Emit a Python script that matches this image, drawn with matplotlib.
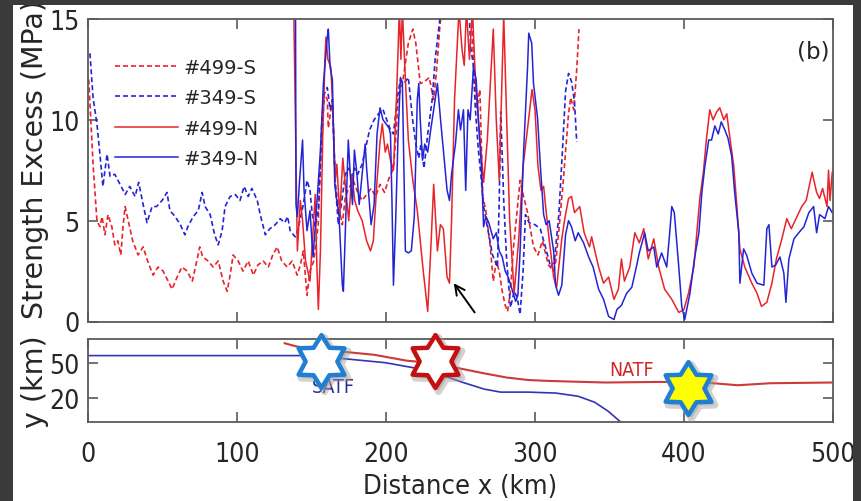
import numpy as np
import matplotlib
matplotlib.use("Agg")
import matplotlib.pyplot as plt
from matplotlib.patches import Rectangle
from matplotlib.path import Path
import matplotlib.transforms as mtransforms
from matplotlib import font_manager as fm

# ---------------- data ----------------
s499_x = [0.5,3.4,6,8,9.4,11.4,13.4,16,18,20,22,23.5,24.9,27,30,33.6,37,40,43.7,47,50.4,53.8,56.4,59.8,63,66.5,70,73,75,77,80.6,84,87.4,90.7,93.4,95.4,97.4,100.8,104,107.5,111,114,117.6,121,124,127,130,133.7,137,140.4,142.5,144.5,147,149,151.5,154.5,157,158.6,160.6,161.3,164,166,168,170.7,172.7,175,178,181,184,187,190,193,196,199,202,205,207,208,211,215,218,220,223,226,229,232,234,236,238,240,250,257,259,261,263,265,267,270,272,274,276,278,280,281.6,283.5,285.6,288,290,292,295,299,302,305,309,312.5,314,316,319,322.5,324,326,328,329.5]
s499_y = [12.0,7.8,5.0,4.7,5.2,4.3,5.3,4.7,3.8,4.0,3.3,4.7,5.7,5.0,4.0,3.3,3.7,3.0,2.3,2.7,2.5,2.0,1.6,2.2,2.7,2.5,2.0,3.0,3.7,3.2,3.0,2.7,3.0,2.0,1.5,2.3,3.3,3.0,2.5,3.0,2.3,2.8,3.0,2.7,3.3,3.7,3.0,2.7,3.0,2.3,2.8,3.5,1.3,2.5,3.0,4.8,10.1,11.3,11.0,9.6,11.0,6.8,5.8,4.8,6.2,6.6,7.0,6.4,6.0,6.3,6.6,6.2,6.8,6.4,7.1,7.6,9.5,11.0,11.8,13.8,14.5,13.8,11.8,11.9,12.1,11.0,12.5,14.5,16,17,17,16,12.4,10.6,11.5,6.2,5.5,3.7,2.0,3.0,2.5,1.5,0.8,0.5,1.5,3.7,5.5,7.0,6.3,5.4,3.7,3.3,4.0,2.8,2.5,3.0,4.5,7.0,10.3,11.1,10.5,12.5,14.5]

s349_x = [1.3,3.4,6,8,10,12.8,14.8,18,21.5,25,28,31.6,34,37,39.6,43,46,49.7,53,55,58.5,62,65,67,70.6,74,76.6,78.6,82,85,87.4,90,92,95.4,98.8,102,104.8,107.5,110,113.6,115.6,119,122,125.7,129,132,134,135.7,139,141,144.5,147,149,150.5,152.5,154.6,157,158.6,160.6,162.5,164,166,168,170,172.7,175,177,179,181,184,186,189,192,195,198,200,203,205,207.6,209.7,212,215,217.7,220,222,223.5,225.5,228,231,233,235,236.5,238,255,257,258.5,260,262,264,265.5,268.5,271.5,274.8,276,277,279,281,283.6,286,288,290,292,293.6,296,300,303.5,307,310.5,313,316,318.5,320.5,322.5,324.5,326.5,328]
s349_y = [13.3,11.1,9.8,8.3,6.7,8.3,7.2,7.3,6.8,6.3,6.7,6.2,6.9,5.8,4.9,5.7,5.7,6.0,6.4,5.5,5.2,4.8,4.3,4.7,5.2,5.5,6.4,5.7,5.3,4.3,3.8,4.5,5.7,6.2,6.3,6.0,6.7,6.2,6.6,6.0,5.3,4.3,4.6,4.8,5.1,4.9,5.2,4.5,4.2,4.6,5.8,7.0,6.5,5.3,4.7,5.5,9.3,11.3,11.6,10.5,11.0,6.8,4.8,5.8,7.3,7.6,7.2,7.6,7.3,7.8,8.5,9.5,10.0,10.3,10.5,10.1,9.5,9.3,11.1,12.0,11.8,12.1,10.1,8.8,8.1,8.8,7.6,9.3,11.0,13.0,14.3,15.2,16.5,16.5,13.5,12.8,10.5,8.5,7.0,5.7,4.5,3.3,2.7,6.0,10.4,6.0,3.0,0.7,1.5,1.2,0.35,2.5,5.3,4.9,4.8,4.6,3.7,2.7,3.0,5.3,8.6,11.4,12.3,11.9,10.9,8.9]

n499_x = [137.5,138.2,140.5,142.5,144,146,149,151,152.5,153.5,154.6,156,157.5,159,159.7,161,163,164,166,167,169,171,173,175,177,179,181,184,187,189.6,191.5,194,196,197.5,199.5,201,203,205,207,209,210,211,213,215,218,221,223,225,228,230,232,234.5,236.5,238.5,241,242.6,244,246,249,251,252.5,254,256,258,260,262,265.5,268,272,274,276,279,281,283,286,289,292,296,298,300,302,304,305.8,307,309,312.5,314.5,318,320,322.5,324.5,326.5,330,333,335,336.6,338,342.7,346,349.4,353,356,358,360,363.6,367,370,373,376,379.7,383,387,391.8,396.5,400,403,406.6,408.6,410.6,413,415,417.3,419.5,422,424,426.7,428.7,431,433.4,435.5,437.5,440.8,445.5,449,452,455.6,459,462,465.7,469,472,475.8,479,482,486,489,491,493,496,497,498,499.5]
n499_y = [16,15,3.5,6.0,5.0,3.0,2.0,4.5,6.3,3.0,0.6,3.5,9.0,13.0,14.1,13.0,12.6,11.0,7.0,7.8,5.3,8.1,6.5,5.0,7.3,6.0,5.5,5.0,4.0,3.5,4.0,7.0,8.9,9.8,8.4,8.8,8.0,7.5,11,15.5,13,15.5,12,9,7,5.5,4.0,2.5,0.5,3.5,6.8,3.5,4.8,4.6,2.2,1.9,5,11,15.5,13.5,12.7,15.5,13,15.5,12,10,6.9,9,14.5,10,7,15.2,10,5,1.4,4,7.7,10.2,11.5,10.5,7.7,6.5,6.7,5.8,4.4,2.2,1.7,4.1,5.1,6.1,6.2,5.4,5.7,4.4,4.0,3.7,4.2,2.7,1.9,2.2,1.1,1.6,3.1,2.0,2.7,4.4,3.9,4.6,3.1,4.1,2.7,1.6,1.1,0.45,0.6,1.4,2.7,4.4,6.1,7.4,9.0,10.5,10.0,10.4,10.6,10.0,10.3,9.0,7.7,5.7,3.6,2.7,1.9,1.4,0.75,0.95,1.9,3.1,4.1,5.1,4.6,5.2,5.7,6.0,7.4,6.4,6.1,6.6,5.7,7.5,6.0,7.4]

n349_x = [139,139.3,139.6,140.5,142,144,145,147,149,151,153,156,158,160.6,161.3,162.5,164,165.6,167,168.5,170.7,171.4,173,174.7,176,177.5,178.8,180.5,182,184,186,187,188.5,190,192,194,196,198,200,202,203,204,205,206.5,208,209.7,211,213,215,217,219,221,222,223,224.5,226,228,230,232,234.5,236.5,238.5,241,242.6,244,246.6,248.6,250,252,253.5,255,256.5,258.7,260.5,262,264,265.5,267,269,272,274,276,278,280,282,285,287,288.5,290,292.4,295,295.8,297,297.8,299,301.7,303.7,305.8,307.5,309.5,312.5,313.8,315.8,318,320.5,322.5,324.5,327,329,332.6,336,339,342.7,346,349.4,353,355,358,361.5,365,368,370,373.6,376,379.7,381.7,385,388.4,390.4,391.8,393.5,396.5,398.5,400.5,404,407,410,412,414,416.6,418.5,420.7,423,425,427.4,429.5,432,434,436.8,437.5,440,442,445.5,449,453.6,454.5,455.6,457,459,461.5,464.4,467,468.4,470.4,473.8,477,480.5,483.8,487,489,491,494.6,497,499.5]
n349_y = [16,15,5.8,5.2,7,9.0,6.5,4.5,5.5,3.2,5.2,8.5,11.8,14.1,14.5,12.6,12,6.8,6.0,5.2,1.8,1.5,5.2,9.0,7.3,5.8,8.5,7.3,5.8,7.3,8.8,7.6,6.2,4.8,5.8,9.3,10.6,10.0,9.8,9.6,9.3,6,1.8,5,9,12.1,11.8,3.5,3.4,3.5,5.2,11.0,11.8,10,8.0,8.8,8.4,9.5,10.5,11.8,10.1,8.5,6.5,6.0,7.3,8.8,10.5,9.5,10.5,6.5,10.5,10.0,12.6,12.0,10,7.7,4.7,5.2,4.9,4.1,4.4,3.5,3.2,2.5,2.2,1.5,1.0,1.3,3.5,8.5,12.6,14.3,14.0,13.8,11.8,10.1,7.6,5.3,4.8,5.0,3.5,1.8,1.3,1.8,4.3,5.0,4.7,4.0,4.4,3.9,3.2,2.7,1.6,1.1,0.25,0.1,0.6,0.8,1.4,1.7,2.7,3.4,4.4,3.5,3.7,2.7,3.4,2.7,4.4,5.7,5.4,2.7,0.75,0.1,1.4,3.1,4.4,6.4,7.7,9.0,9.0,9.7,9.3,9.9,9.5,9.1,8.2,6.4,4.4,1.9,3.6,3.3,2.4,1.9,1.8,3.1,4.6,4.8,2.7,2.8,3.2,2.4,0.95,3.1,4.1,4.4,4.7,5.4,5.7,4.4,5.3,5.1,5.7,5.4]

# fault traces (bottom panel)
satf_x = [0,50,100,148,170,199.6,221.7,236.5,251,266,277,295.6,314,329,340,349,357.5]
satf_y = [56,56,56,56,53.6,50.0,45,40,33.6,27.7,25.2,25.2,24.4,21.7,16.7,9.2,0]
natf_x = [132,140,162.6,192,214,229,247,266,281,295.6,310,347,384,414,436,458,499]
natf_y = [66.4,63.7,60.3,56.7,51.7,50,45.8,41,37.5,35.4,34.6,33.3,33.8,33.3,31,32.7,33.3]

star_x = [156.6, 232.7, 402.6]
star_y = [51.7, 51.7, 28.5]

legend_labels = ["#499-S", "#349-S", "#499-N", "#349-N"]
xticks = [0, 100, 200, 300, 400, 500]
top_yticks = [0, 5, 10, 15]
bot_yticks = [20, 50]

# ---------------- fonts ----------------
def find_narrow():
    prefs = []
    for f in fm.fontManager.ttflist:
        nm = f.name.lower()
        st = str(f.stretch).lower()
        w = f.weight
        if f.style != "normal":
            continue
        if w not in (400, "normal", "regular", "book"):
            continue
        if "narrow" in nm or "condensed" in nm or st in ("condensed", "semi-condensed", "extra-condensed"):
            score = 0 if "liberation" in nm else (1 if "dejavu" in nm else 2)
            prefs.append((score, f.fname))
    prefs.sort()
    return prefs[0][1] if prefs else None

narrow_file = find_narrow()

def nfp(size):
    if narrow_file:
        return fm.FontProperties(fname=narrow_file, size=size)
    return fm.FontProperties(family="DejaVu Sans", size=size * 0.8)

# ---------------- style ----------------
RED = "#e8232a"
BLUE = "#2424d6"
SPINE = "#5a5a5a"
TXT = "#262626"
REG = ["DejaVu Sans"]

W, H = 862, 502
fig = plt.figure(figsize=(W / 100, H / 100), dpi=100, facecolor="#3a3a3a")
fig.patches.append(Rectangle((13 / W, 0), (853 - 13) / W, (H - 6) / H,
                             transform=fig.transFigure, facecolor="white",
                             edgecolor="none", zorder=-5))

axl, axr = 88 / W, 833 / W
ax1 = fig.add_axes([axl, (H - 322.5) / H, axr - axl, 302.5 / H])
ax2 = fig.add_axes([axl, (H - 423) / H, axr - axl, 83 / H])

for ax in (ax1, ax2):
    for sp in ax.spines.values():
        sp.set_color(SPINE)
        sp.set_linewidth(1.3)
    ax.tick_params(direction="in", length=7, width=1.2, color=SPINE,
                   top=True, right=True, labelcolor=TXT)
    ax.set_xlim(0, 500)
    ax.set_xticks(xticks)
    ax.set_facecolor("white")

dash = (0, (3.0, 1.8))
ax1.plot(s499_x, s499_y, color=RED, lw=1.2, ls=dash, label=legend_labels[0])
ax1.plot(s349_x, s349_y, color=BLUE, lw=1.2, ls=dash, label=legend_labels[1])
ax1.plot(n499_x, n499_y, color=RED, lw=1.1, label=legend_labels[2])
ax1.plot(n349_x, n349_y, color=BLUE, lw=1.1, label=legend_labels[3])
ax1.set_ylim(0, 15)
ax1.set_yticks(top_yticks)
ax1.tick_params(axis="x", labelbottom=False)
ax1.tick_params(axis="y", pad=6)
for t in ax1.get_yticklabels():
    t.set_fontproperties(nfp(19))

leg = ax1.legend(loc="upper left", bbox_to_anchor=((115 - 88) / 745, (322.5 - 59) / 302.5),
                 frameon=False, borderpad=0, borderaxespad=0, handlelength=3.25,
                 handletextpad=0.25, labelspacing=0.58,
                 prop={"family": REG, "size": 14})
for t in leg.get_texts():
    t.set_color(TXT)

ax1.annotate("", xy=(245.5, 1.9), xytext=(259.5, 0.45),
             arrowprops=dict(arrowstyle="->,head_length=0.7,head_width=0.35",
                             color="black", lw=1.4, shrinkA=0, shrinkB=0))
ax1.text(497.5, 13.4, "(b)", ha="right", va="center", fontsize=16.5, family=REG, color=TXT)
ax1.set_ylabel("Strength Excess (MPa)", fontsize=20.5, family=REG, color=TXT)
ax1.yaxis.set_label_coords(-0.052, 0.54)

# bottom panel
ax2.plot(satf_x, satf_y, color="#3434b8", lw=1.2)
ax2.plot(natf_x, natf_y, color="#cc3a3a", lw=1.5)
ax2.set_ylim(0, 70)
ax2.set_yticks(bot_yticks)
ax2.tick_params(axis="y", pad=6)
ax2.tick_params(axis="x", pad=14)
for t in ax2.get_yticklabels() + ax2.get_xticklabels():
    t.set_fontproperties(nfp(19))
t1 = ax2.text(150.5, 30, "SATF", color="#2a2a9a", ha="left", va="center", zorder=3)
t1.set_fontproperties(nfp(14))
t2 = ax2.text(350, 44.5, "NATF", color="#d02828", ha="left", va="center", zorder=3)
t2.set_fontproperties(nfp(14))

star = Path.unit_regular_star(6, innerCircle=0.6)
shadow = mtransforms.offset_copy(ax2.transData, fig=fig, x=3, y=-3, units="dots")
edges = ["#1f7fd3", "#c41010", "#1f7fd3"]
faces = ["white", "white", "#ffff00"]
for i in range(len(star_x)):
    ax2.plot(star_x[i], star_y[i], marker=star, ms=39, mfc="#9a9a9a", mec="#9a9a9a",
             mew=5, alpha=0.45, transform=shadow, clip_on=False, zorder=4)
    ax2.plot(star_x[i], star_y[i], marker=star, ms=38, mfc=faces[i], mec=edges[i],
             mew=3.2, clip_on=False, zorder=5)

ax2.set_xlabel("Distance x (km)", color=TXT)
ax2.xaxis.label.set_fontproperties(nfp(19.5))
ax2.xaxis.set_label_coords(0.5, -0.62)
ax2.xaxis.label.set_va("top")
ax2.set_ylabel("y (km)", fontsize=20.5, family=REG, color=TXT)
ax2.yaxis.set_label_coords(-0.052, 0.5)

# dark frame covering clipped text
dark = "#3a3a3a"
fig.add_artist(Rectangle((0, (H - 6) / H), 1, 6 / H, transform=fig.transFigure,
                         facecolor=dark, edgecolor="none", zorder=20))
fig.add_artist(Rectangle((0, 0), 13 / W, 1, transform=fig.transFigure,
                         facecolor=dark, edgecolor="none", zorder=20))
fig.add_artist(Rectangle((853 / W, 0), 9 / W, 1, transform=fig.transFigure,
                         facecolor=dark, edgecolor="none", zorder=20))

fig.savefig("out.png", dpi=100, facecolor=fig.get_facecolor())
